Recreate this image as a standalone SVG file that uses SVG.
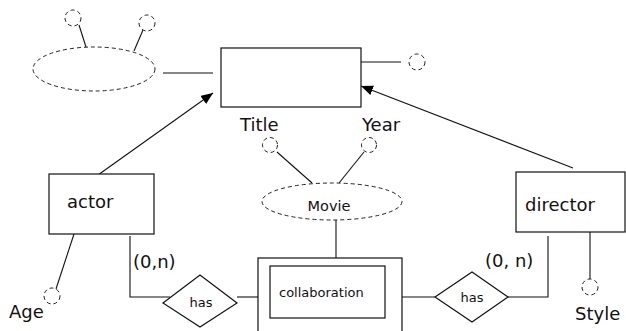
<svg xmlns="http://www.w3.org/2000/svg" width="626" height="331" viewBox="0 0 626 331">
  <style>
    .box { fill: #fff; stroke: #111; stroke-width: 1.2; }
    .dash { fill: #fff; stroke: #222; stroke-width: 1; stroke-dasharray: 4 3; }
    .line { fill: none; stroke: #111; stroke-width: 1.1; }
    .lbl { font-family: "DejaVu Sans", Verdana, sans-serif; font-size: 18px; fill: #111; }
    .sm { font-family: "DejaVu Sans", Verdana, sans-serif; font-size: 13px; fill: #111; }
  </style>
  <defs>
    <marker id="arrow" viewBox="0 0 12 10" refX="12" refY="5" markerWidth="12" markerHeight="10" markerUnits="userSpaceOnUse" orient="auto">
      <path d="M0,0 L12,5 L0,10 Z" fill="#000"/>
    </marker>
  </defs>
  <rect width="626" height="331" fill="#fff"/>

  <g id="connectors">
    <!-- unnamed ellipse to the untitled entity -->
    <line class="line" x1="163" y1="73" x2="213" y2="73"/>
    <line class="line" x1="79" y1="25" x2="86" y2="47"/>
    <line class="line" x1="143" y1="30" x2="134" y2="51"/>
    <!-- entity to its side attribute -->
    <line class="line" x1="361" y1="62" x2="401" y2="62"/>
    <!-- isa arrows -->
    <line class="line" x1="98" y1="175" x2="213" y2="93" marker-end="url(#arrow)"/>
    <line class="line" x1="573" y1="168" x2="361" y2="86" marker-end="url(#arrow)"/>
    <!-- Movie attributes -->
    <line class="line" x1="277" y1="152" x2="312" y2="183"/>
    <line class="line" x1="364" y1="152" x2="339" y2="183"/>
    <line class="line" x1="336" y1="220" x2="336" y2="258"/>
    <!-- actor side -->
    <line class="line" x1="74" y1="234" x2="56" y2="289"/>
    <polyline class="line" points="130,236 130,297 170,297"/>
    <line class="line" x1="237" y1="297" x2="258" y2="297"/>
    <!-- director side -->
    <line class="line" x1="402" y1="297" x2="435" y2="297"/>
    <polyline class="line" points="508,297 548,297 548,236"/>
    <line class="line" x1="590" y1="232" x2="590" y2="279"/>
  </g>

  <g id="group-ellipse">
    <ellipse class="dash" cx="94" cy="69" rx="61" ry="22"/>
    <circle class="dash" cx="73" cy="18" r="8"/>
    <circle class="dash" cx="147" cy="23" r="8"/>
  </g>

  <g id="entity-top">
    <rect class="box" x="221" y="48" width="140" height="59"/>
    <circle class="dash" cx="417" cy="62" r="8"/>
  </g>

  <g id="attr-title">
    <text class="lbl" x="240" y="131">Title</text>
    <circle class="dash" cx="270" cy="145" r="7.5"/>
  </g>

  <g id="attr-year">
    <text class="lbl" x="362" y="131">Year</text>
    <circle class="dash" cx="369" cy="145" r="7.5"/>
  </g>

  <g id="movie">
    <ellipse class="dash" cx="332" cy="201.5" rx="70" ry="18.5"/>
    <text x="329" y="211" text-anchor="middle" font-family="DejaVu Sans, Verdana, sans-serif" font-size="14.5" fill="#111">Movie</text>
  </g>

  <g id="actor">
    <rect class="box" x="49" y="174" width="105" height="60"/>
    <text class="lbl" x="67" y="208">actor</text>
  </g>

  <g id="attr-age">
    <circle class="dash" cx="52" cy="296" r="8"/>
    <text class="lbl" x="9" y="318">Age</text>
  </g>

  <g id="director">
    <rect class="box" x="516" y="172" width="109" height="60"/>
    <text class="lbl" x="525" y="211">director</text>
  </g>

  <g id="attr-style">
    <circle class="dash" cx="590" cy="287" r="8"/>
    <text class="lbl" x="575" y="320">Style</text>
  </g>

  <g id="has-actor">
    <polygon class="box" points="163,303 200,275 237,303 200,327"/>
    <text class="sm" x="201" y="307" text-anchor="middle" font-size="12.5">has</text>
    <text class="lbl" x="133" y="268">(0,n)</text>
  </g>

  <g id="has-director">
    <polygon class="box" points="435,297 472,272 508,297 472,322"/>
    <text class="sm" x="472" y="302" text-anchor="middle" font-size="12.5">has</text>
    <text class="lbl" x="485" y="267">(0, n)</text>
  </g>

  <g id="collaboration">
    <rect class="box" x="258" y="258" width="144" height="90"/>
    <rect class="box" x="270" y="266" width="115" height="52"/>
    <text class="sm" x="279" y="297">collaboration</text>
  </g>
</svg>
